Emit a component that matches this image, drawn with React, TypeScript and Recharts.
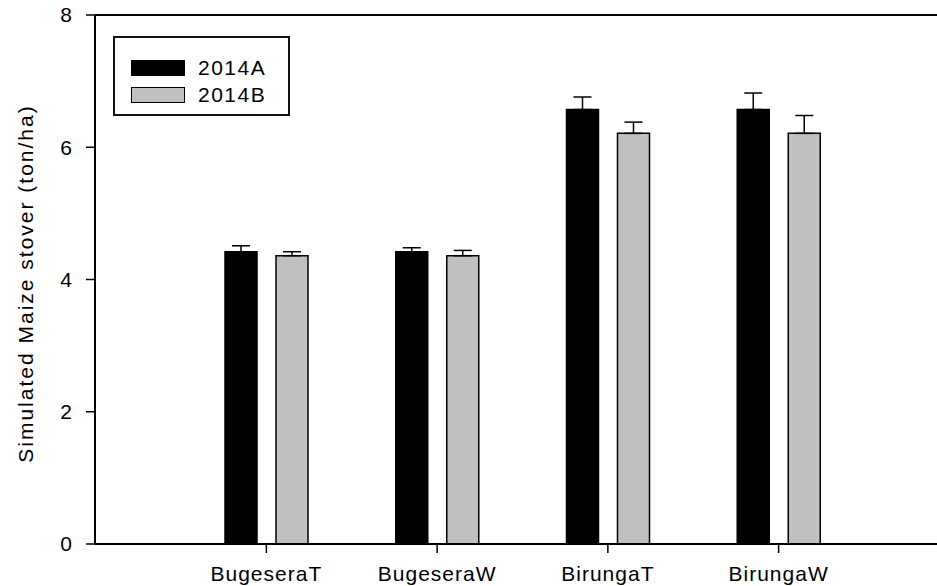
import { Bar, BarChart, ErrorBar, ReferenceLine, XAxis, YAxis } from "recharts";

const SITES = ["BugeseraT", "BugeseraW", "BirungaT", "BirungaW"];
const SEASON_A = [4.42, 4.42, 6.57, 6.57];
const SEASON_A_ERR = [0.09, 0.06, 0.19, 0.25];
const SEASON_B = [4.36, 4.36, 6.21, 6.21];
const SEASON_B_ERR = [0.06, 0.08, 0.17, 0.27];
const Y_TICKS = [0, 2, 4, 6, 8];
const SERIES = [
  { key: "a", name: "2014A", color: "#000" },
  { key: "b", name: "2014B", color: "#c0c0c0" },
];

const FONT = '"Liberation Sans", Arial, sans-serif';

const data = SITES.map((site, i) => ({
  site,
  a: SEASON_A[i],
  aErr: [0, SEASON_A_ERR[i]],
  b: SEASON_B[i],
  bErr: [0, SEASON_B_ERR[i]],
}));

const tickStyle = { fontSize: 21, fill: "#000", fontFamily: FONT, letterSpacing: 1 };

function YLabel(props: any) {
  const vb = props.viewBox || { y: 15, height: 529 };
  const cx = 25;
  const cy = vb.y + vb.height / 2 + 4;
  return (
    <text
      x={cx}
      y={cy}
      transform={`rotate(-90 ${cx} ${cy})`}
      textAnchor="middle"
      dominantBaseline="central"
      fontSize={21}
      fontFamily={FONT}
      letterSpacing={2}
      fill="#000"
    >
      Simulated Maize stover (ton/ha)
    </text>
  );
}

function LegendBox() {
  return (
    <div
      style={{
        position: "absolute",
        left: 113,
        top: 36,
        width: 177,
        height: 80,
        border: "2px solid #111",
        boxSizing: "border-box",
        paddingTop: 16,
        paddingLeft: 16,
        fontFamily: FONT,
        fontSize: 21,
        letterSpacing: 1.5,
        color: "#000",
      }}
    >
      {SERIES.map((s) => (
        <div key={s.key} style={{ display: "flex", alignItems: "center", height: 27 }}>
          <span
            style={{
              width: 54,
              height: 16,
              background: s.color,
              border: "1.5px solid #000",
              boxSizing: "border-box",
              marginRight: 13,
            }}
          />
          <span>{s.name}</span>
        </div>
      ))}
    </div>
  );
}

export default function App() {
  return (
    <div style={{ position: "absolute", left: 0, top: 0, width: 937, height: 586, background: "#fff" }}>
      <BarChart
        width={937}
        height={586}
        data={data}
        margin={{ top: 15, right: 0, bottom: 0, left: 35 }}
        barSize={32}
        barGap={19}
      >
        <XAxis
          dataKey="site"
          height={42}
          padding={{ left: 86, right: 73 }}
          axisLine={{ stroke: "#000", strokeWidth: 2 }}
          tickLine={{ stroke: "#000", strokeWidth: 1.5 }}
          tickSize={9}
          tickMargin={13}
          tick={tickStyle}
          interval={0}
        />
        <YAxis
          domain={[0, 8]}
          ticks={Y_TICKS}
          width={60}
          axisLine={{ stroke: "#000", strokeWidth: 2 }}
          tickLine={{ stroke: "#000", strokeWidth: 1.5 }}
          tickSize={9}
          tickMargin={13}
          tick={tickStyle}
          label={<YLabel />}
        />
        <ReferenceLine y={8} stroke="#000" strokeWidth={2} />
        {SERIES.map((s) => (
          <Bar
            key={s.key}
            dataKey={s.key}
            name={s.name}
            fill={s.color}
            stroke="#000"
            strokeWidth={1.5}
            isAnimationActive={false}
          >
            <ErrorBar
              dataKey={s.key + "Err"}
              direction="y"
              width={9}
              stroke="#000"
              strokeWidth={1.5}
              isAnimationActive={false}
            />
          </Bar>
        ))}
      </BarChart>
      <LegendBox />
    </div>
  );
}
